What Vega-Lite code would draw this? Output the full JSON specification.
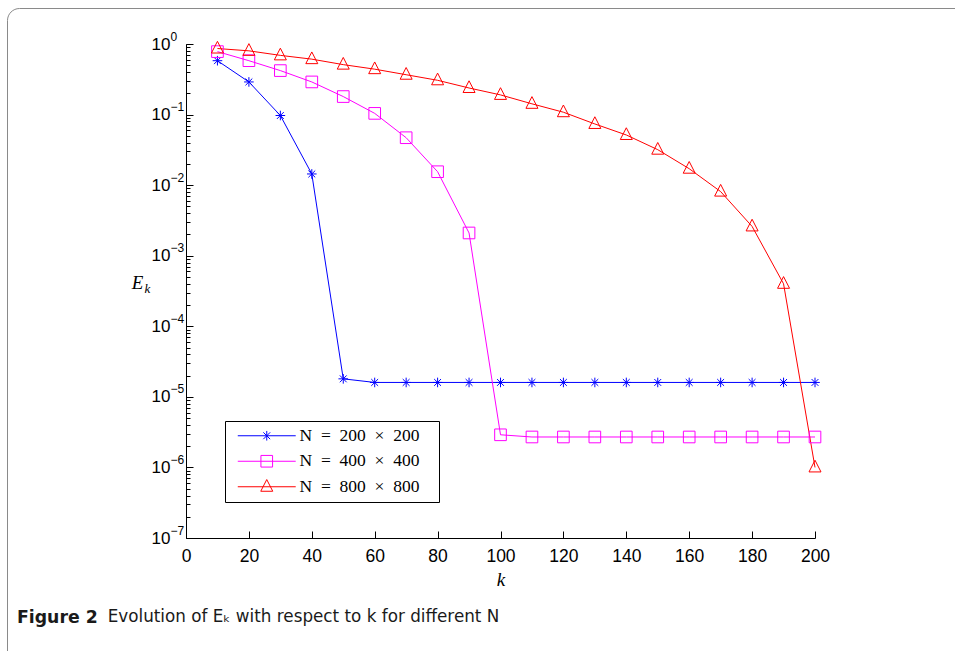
{
  "$schema": "https://vega.github.io/schema/vega-lite/v6.json",
  "autosize": {"type": "none"},
  "padding": {"left": 7, "top": 8, "right": -17, "bottom": -17},
  "width": 965,
  "height": 660,
  "background": "white",
  "title": {
    "text": "Figure 2",
    "subtitle": "\u200b\u00a0\u00a0\u00a0\u00a0\u00a0\u00a0\u00a0\u00a0\u00a0\u00a0\u00a0\u00a0\u00a0\u00a0\u00a0\u00a0\u00a0Evolution of E\u2096 with respect to k for different N",
    "orient": "bottom",
    "anchor": "start",
    "frame": "group",
    "offset": -59,
    "dx": 10,
    "font": "DejaVu Sans",
    "fontSize": 17.3,
    "fontWeight": "bold",
    "color": "#1a1a1a",
    "subtitleFont": "DejaVu Sans",
    "subtitleFontSize": 16.8,
    "subtitleColor": "#1a1a1a",
    "subtitlePadding": -17.3
  },
  "data": {
    "values": [
      {"k": 10, "E": 0.58, "series": "N\u2002=\u2002200\u2002×\u2002200\u00a0\u00a0\u00a0\u200b"},
      {"k": 20, "E": 0.29, "series": "N\u2002=\u2002200\u2002×\u2002200\u00a0\u00a0\u00a0\u200b"},
      {"k": 30, "E": 0.097, "series": "N\u2002=\u2002200\u2002×\u2002200\u00a0\u00a0\u00a0\u200b"},
      {"k": 40, "E": 0.0144, "series": "N\u2002=\u2002200\u2002×\u2002200\u00a0\u00a0\u00a0\u200b"},
      {"k": 50, "E": 1.8e-5, "series": "N\u2002=\u2002200\u2002×\u2002200\u00a0\u00a0\u00a0\u200b"},
      {"k": 60, "E": 1.6e-5, "series": "N\u2002=\u2002200\u2002×\u2002200\u00a0\u00a0\u00a0\u200b"},
      {"k": 70, "E": 1.6e-5, "series": "N\u2002=\u2002200\u2002×\u2002200\u00a0\u00a0\u00a0\u200b"},
      {"k": 80, "E": 1.6e-5, "series": "N\u2002=\u2002200\u2002×\u2002200\u00a0\u00a0\u00a0\u200b"},
      {"k": 90, "E": 1.6e-5, "series": "N\u2002=\u2002200\u2002×\u2002200\u00a0\u00a0\u00a0\u200b"},
      {"k": 100, "E": 1.6e-5, "series": "N\u2002=\u2002200\u2002×\u2002200\u00a0\u00a0\u00a0\u200b"},
      {"k": 110, "E": 1.6e-5, "series": "N\u2002=\u2002200\u2002×\u2002200\u00a0\u00a0\u00a0\u200b"},
      {"k": 120, "E": 1.6e-5, "series": "N\u2002=\u2002200\u2002×\u2002200\u00a0\u00a0\u00a0\u200b"},
      {"k": 130, "E": 1.6e-5, "series": "N\u2002=\u2002200\u2002×\u2002200\u00a0\u00a0\u00a0\u200b"},
      {"k": 140, "E": 1.6e-5, "series": "N\u2002=\u2002200\u2002×\u2002200\u00a0\u00a0\u00a0\u200b"},
      {"k": 150, "E": 1.6e-5, "series": "N\u2002=\u2002200\u2002×\u2002200\u00a0\u00a0\u00a0\u200b"},
      {"k": 160, "E": 1.6e-5, "series": "N\u2002=\u2002200\u2002×\u2002200\u00a0\u00a0\u00a0\u200b"},
      {"k": 170, "E": 1.6e-5, "series": "N\u2002=\u2002200\u2002×\u2002200\u00a0\u00a0\u00a0\u200b"},
      {"k": 180, "E": 1.6e-5, "series": "N\u2002=\u2002200\u2002×\u2002200\u00a0\u00a0\u00a0\u200b"},
      {"k": 190, "E": 1.6e-5, "series": "N\u2002=\u2002200\u2002×\u2002200\u00a0\u00a0\u00a0\u200b"},
      {"k": 200, "E": 1.6e-5, "series": "N\u2002=\u2002200\u2002×\u2002200\u00a0\u00a0\u00a0\u200b"},
      {"k": 10, "E": 0.78, "series": "N\u2002=\u2002400\u2002×\u2002400\u00a0\u00a0\u00a0\u200b"},
      {"k": 20, "E": 0.58, "series": "N\u2002=\u2002400\u2002×\u2002400\u00a0\u00a0\u00a0\u200b"},
      {"k": 30, "E": 0.42, "series": "N\u2002=\u2002400\u2002×\u2002400\u00a0\u00a0\u00a0\u200b"},
      {"k": 40, "E": 0.29, "series": "N\u2002=\u2002400\u2002×\u2002400\u00a0\u00a0\u00a0\u200b"},
      {"k": 50, "E": 0.18, "series": "N\u2002=\u2002400\u2002×\u2002400\u00a0\u00a0\u00a0\u200b"},
      {"k": 60, "E": 0.104, "series": "N\u2002=\u2002400\u2002×\u2002400\u00a0\u00a0\u00a0\u200b"},
      {"k": 70, "E": 0.047, "series": "N\u2002=\u2002400\u2002×\u2002400\u00a0\u00a0\u00a0\u200b"},
      {"k": 80, "E": 0.0155, "series": "N\u2002=\u2002400\u2002×\u2002400\u00a0\u00a0\u00a0\u200b"},
      {"k": 90, "E": 0.0021, "series": "N\u2002=\u2002400\u2002×\u2002400\u00a0\u00a0\u00a0\u200b"},
      {"k": 100, "E": 2.9e-6, "series": "N\u2002=\u2002400\u2002×\u2002400\u00a0\u00a0\u00a0\u200b"},
      {"k": 110, "E": 2.7e-6, "series": "N\u2002=\u2002400\u2002×\u2002400\u00a0\u00a0\u00a0\u200b"},
      {"k": 120, "E": 2.7e-6, "series": "N\u2002=\u2002400\u2002×\u2002400\u00a0\u00a0\u00a0\u200b"},
      {"k": 130, "E": 2.7e-6, "series": "N\u2002=\u2002400\u2002×\u2002400\u00a0\u00a0\u00a0\u200b"},
      {"k": 140, "E": 2.7e-6, "series": "N\u2002=\u2002400\u2002×\u2002400\u00a0\u00a0\u00a0\u200b"},
      {"k": 150, "E": 2.7e-6, "series": "N\u2002=\u2002400\u2002×\u2002400\u00a0\u00a0\u00a0\u200b"},
      {"k": 160, "E": 2.7e-6, "series": "N\u2002=\u2002400\u2002×\u2002400\u00a0\u00a0\u00a0\u200b"},
      {"k": 170, "E": 2.7e-6, "series": "N\u2002=\u2002400\u2002×\u2002400\u00a0\u00a0\u00a0\u200b"},
      {"k": 180, "E": 2.7e-6, "series": "N\u2002=\u2002400\u2002×\u2002400\u00a0\u00a0\u00a0\u200b"},
      {"k": 190, "E": 2.7e-6, "series": "N\u2002=\u2002400\u2002×\u2002400\u00a0\u00a0\u00a0\u200b"},
      {"k": 200, "E": 2.7e-6, "series": "N\u2002=\u2002400\u2002×\u2002400\u00a0\u00a0\u00a0\u200b"},
      {"k": 10, "E": 0.863, "series": "N\u2002=\u2002800\u2002×\u2002800\u00a0\u00a0\u00a0\u200b"},
      {"k": 20, "E": 0.8, "series": "N\u2002=\u2002800\u2002×\u2002800\u00a0\u00a0\u00a0\u200b"},
      {"k": 30, "E": 0.69, "series": "N\u2002=\u2002800\u2002×\u2002800\u00a0\u00a0\u00a0\u200b"},
      {"k": 40, "E": 0.61, "series": "N\u2002=\u2002800\u2002×\u2002800\u00a0\u00a0\u00a0\u200b"},
      {"k": 50, "E": 0.51, "series": "N\u2002=\u2002800\u2002×\u2002800\u00a0\u00a0\u00a0\u200b"},
      {"k": 60, "E": 0.44, "series": "N\u2002=\u2002800\u2002×\u2002800\u00a0\u00a0\u00a0\u200b"},
      {"k": 70, "E": 0.367, "series": "N\u2002=\u2002800\u2002×\u2002800\u00a0\u00a0\u00a0\u200b"},
      {"k": 80, "E": 0.306, "series": "N\u2002=\u2002800\u2002×\u2002800\u00a0\u00a0\u00a0\u200b"},
      {"k": 90, "E": 0.238, "series": "N\u2002=\u2002800\u2002×\u2002800\u00a0\u00a0\u00a0\u200b"},
      {"k": 100, "E": 0.19, "series": "N\u2002=\u2002800\u2002×\u2002800\u00a0\u00a0\u00a0\u200b"},
      {"k": 110, "E": 0.142, "series": "N\u2002=\u2002800\u2002×\u2002800\u00a0\u00a0\u00a0\u200b"},
      {"k": 120, "E": 0.108, "series": "N\u2002=\u2002800\u2002×\u2002800\u00a0\u00a0\u00a0\u200b"},
      {"k": 130, "E": 0.0736, "series": "N\u2002=\u2002800\u2002×\u2002800\u00a0\u00a0\u00a0\u200b"},
      {"k": 140, "E": 0.0514, "series": "N\u2002=\u2002800\u2002×\u2002800\u00a0\u00a0\u00a0\u200b"},
      {"k": 150, "E": 0.0318, "series": "N\u2002=\u2002800\u2002×\u2002800\u00a0\u00a0\u00a0\u200b"},
      {"k": 160, "E": 0.0171, "series": "N\u2002=\u2002800\u2002×\u2002800\u00a0\u00a0\u00a0\u200b"},
      {"k": 170, "E": 0.0081, "series": "N\u2002=\u2002800\u2002×\u2002800\u00a0\u00a0\u00a0\u200b"},
      {"k": 180, "E": 0.0026, "series": "N\u2002=\u2002800\u2002×\u2002800\u00a0\u00a0\u00a0\u200b"},
      {"k": 190, "E": 0.0004, "series": "N\u2002=\u2002800\u2002×\u2002800\u00a0\u00a0\u00a0\u200b"},
      {"k": 200, "E": 1.0e-6, "series": "N\u2002=\u2002800\u2002×\u2002800\u00a0\u00a0\u00a0\u200b"}
    ]
  },
  "layer": [
    {
      "mark": {"type": "line", "strokeWidth": 1, "clip": false},
      "encoding": {
        "x": {
          "field": "k", "type": "quantitative",
          "scale": {"domain": [0, 200], "range": [179, 808], "nice": false, "zero": false},
          "axis": {
            "title": "k", "titleFont": "Liberation Serif", "titleFontStyle": "italic", "titleFontWeight": "normal",
            "titleFontSize": 19, "titleColor": "black", "titleBaseline": "alphabetic", "titleY": 47,
            "offset": -130,
            "values": [0, 20, 40, 60, 80, 100, 120, 140, 160, 180, 200],
            "format": "d",
            "tickSize": -7, "tickColor": "black", "tickWidth": 1,
            "domainColor": "black", "domainWidth": 1,
            "labelFont": "Liberation Sans", "labelFontSize": 17.5, "labelColor": "black",
            "labelPadding": 16, "labelFlush": false, "labelOverlap": false, "grid": false
          }
        },
        "y": {
          "field": "E", "type": "quantitative",
          "scale": {"type": "log", "domain": [1e-7, 1], "range": [530, 36], "nice": false},
          "axis": {
            "orient": "left", "offset": -179,
            "values": [1e-7, 1e-6, 1e-5, 1e-4, 1e-3, 1e-2, 1e-1, 1],
            "labelExpr": "'10'",
            "tickSize": -7, "tickColor": "black", "tickWidth": 1,
            "domainColor": "black", "domainWidth": 1,
            "labelFont": "Liberation Sans", "labelFontSize": 17, "labelColor": "black",
            "labelAlign": "left", "labelBaseline": "middle", "labelPadding": 42,
            "labelFlush": false, "labelOverlap": false, "grid": false,
            "title": "E", "titleFont": "Liberation Serif", "titleFontStyle": "italic", "titleFontWeight": "normal",
            "titleFontSize": 19, "titleColor": "black", "titleAngle": 0, "titleAlign": "center",
            "titleBaseline": "alphabetic", "titleX": -49, "titleY": 280
          }
        },
        "color": {
          "field": "series", "type": "nominal",
          "scale": {
            "domain": ["N\u2002=\u2002200\u2002×\u2002200\u00a0\u00a0\u00a0\u200b", "N\u2002=\u2002400\u2002×\u2002400\u00a0\u00a0\u00a0\u200b", "N\u2002=\u2002800\u2002×\u2002800\u00a0\u00a0\u00a0\u200b"],
            "range": ["#0000ff", "#ff00ff", "#ff0000"]
          },
          "legend": {
            "orient": "none", "legendX": 218, "legendY": 413,
            "title": null,
            "strokeColor": "black", "fillColor": "white", "padding": 6,
            "symbolSize": 144, "symbolStrokeWidth": 1, "symbolOffset": 27,
            "labelOffset": 24, "labelFont": "Liberation Serif", "labelFontSize": 17.5, "labelColor": "black",
            "labelLimit": 400, "rowPadding": 6.5,
            "encode": {
              "symbols": {
                "update": {
                  "shape": {"signal": "datum.index === 0 ? 'M0,-0.8V0.8M-0.57,-0.57L0.57,0.57M-0.57,0.57L0.57,-0.57M-4.83,0H4.83' : datum.index === 1 ? 'M-0.97,-0.97H0.97V0.97H-0.97ZM-4.83,0H4.83' : 'M0,-1.2L1,0.75L-1,0.75ZM-4.83,0H4.83'"},
                  "fill": {"value": "transparent"}
                }
              }
            }
          }
        }
      }
    },
    {
      "transform": [{"filter": {"field": "series", "equal": "N\u2002=\u2002200\u2002×\u2002200\u00a0\u00a0\u00a0\u200b"}}],
      "mark": {"type": "point", "filled": false, "strokeWidth": 1, "size": 144, "opacity": 1, "clip": false,
               "shape": "M0,-0.8V0.8M-0.8,0H0.8M-0.57,-0.57L0.57,0.57M-0.57,0.57L0.57,-0.57"},
      "encoding": {
        "x": {"field": "k", "type": "quantitative"},
        "y": {
          "field": "E", "type": "quantitative",
          "axis": {
            "orient": "left", "offset": -179,
            "values": [1e-7, 2e-7, 3e-7, 4e-7, 5e-7, 6e-7, 7e-7, 8e-7, 9e-7,
                       1e-6, 2e-6, 3e-6, 4e-6, 5e-6, 6e-6, 7e-6, 8e-6, 9e-6,
                       1e-5, 2e-5, 3e-5, 4e-5, 5e-5, 6e-5, 7e-5, 8e-5, 9e-5,
                       1e-4, 2e-4, 3e-4, 4e-4, 5e-4, 6e-4, 7e-4, 8e-4, 9e-4,
                       1e-3, 2e-3, 3e-3, 4e-3, 5e-3, 6e-3, 7e-3, 8e-3, 9e-3,
                       1e-2, 2e-2, 3e-2, 4e-2, 5e-2, 6e-2, 7e-2, 8e-2, 9e-2,
                       1e-1, 2e-1, 3e-1, 4e-1, 5e-1, 6e-1, 7e-1, 8e-1, 9e-1, 1],
            "labelExpr": "abs(log(datum.value)/LN10 - round(log(datum.value)/LN10)) < 1e-6 ? replace(toString(round(log(datum.value)/LN10)), '-', '\u2212') : ''",
            "tickSize": -4, "tickColor": "black", "tickWidth": 1,
            "domain": false,
            "labelFont": "Liberation Sans", "labelFontSize": 12, "labelColor": "black",
            "labelAlign": "left", "labelBaseline": "middle", "labelPadding": 20, "labelOffset": -8,
            "labelFlush": false, "labelOverlap": false, "grid": false,
            "title": "k", "titleFont": "Liberation Serif", "titleFontStyle": "italic", "titleFontWeight": "normal",
            "titleFontSize": 13, "titleColor": "black", "titleAngle": 0, "titleAlign": "center",
            "titleBaseline": "alphabetic", "titleX": -39, "titleY": 284
          }
        },
        "color": {"field": "series", "type": "nominal"}
      }
    },
    {
      "transform": [{"filter": {"field": "series", "equal": "N\u2002=\u2002400\u2002×\u2002400\u00a0\u00a0\u00a0\u200b"}}],
      "mark": {"type": "point", "filled": false, "strokeWidth": 1, "size": 144, "opacity": 1, "clip": false,
               "shape": "M-0.97,-0.97H0.97V0.97H-0.97Z"},
      "encoding": {
        "x": {"field": "k", "type": "quantitative"},
        "y": {"field": "E", "type": "quantitative", "axis": null},
        "color": {"field": "series", "type": "nominal"}
      }
    },
    {
      "transform": [{"filter": {"field": "series", "equal": "N\u2002=\u2002800\u2002×\u2002800\u00a0\u00a0\u00a0\u200b"}}],
      "mark": {"type": "point", "filled": false, "strokeWidth": 1, "size": 144, "opacity": 1, "clip": false,
               "shape": "M0,-1.2L1,0.75L-1,0.75Z"},
      "encoding": {
        "x": {"field": "k", "type": "quantitative"},
        "y": {"field": "E", "type": "quantitative", "axis": null},
        "color": {"field": "series", "type": "nominal"}
      }
    }
  ],
  "resolve": {"axis": {"y": "independent"}},
  "config": {
    "font": "Liberation Sans",
    "view": {"stroke": "#8a8a8a", "strokeWidth": 1, "cornerRadius": 12},
    "legend": {"strokeWidth": 1}
  }
}
